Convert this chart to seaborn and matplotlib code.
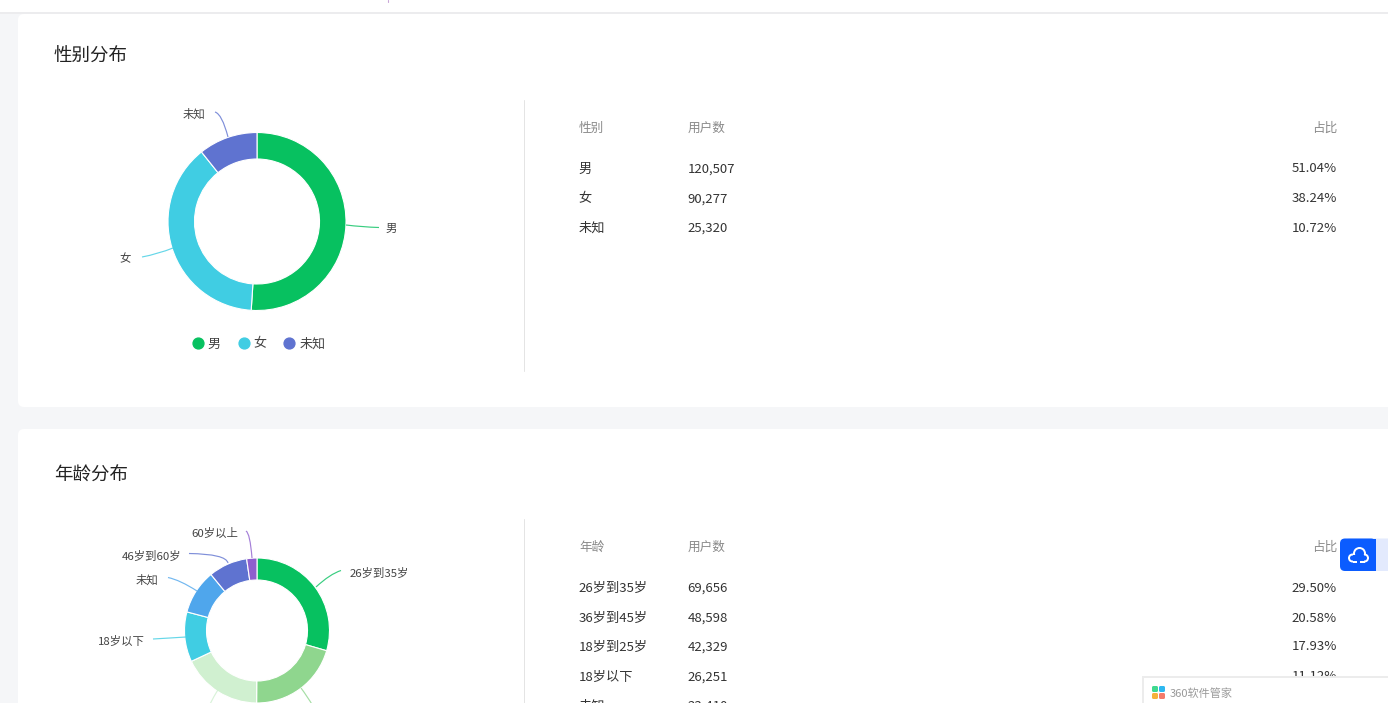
#!/usr/bin/env python3

import numpy as np
import seaborn as sns
import matplotlib.pyplot as plt
from matplotlib.lines import Line2D
from matplotlib.patches import Rectangle, FancyBboxPatch, PathPatch, Circle
from matplotlib.path import Path

W, H = 1388, 703

gender_labels = ["男", "女", "未知"]
gender_users = [120507, 90277, 25320]
gender_share = ["51.04%", "38.24%", "10.72%"]
gender_colors = ["#07c160", "#40cde3", "#5f73d0"]

age_labels = ["26岁到35岁", "36岁到45岁", "18岁到25岁", "18岁以下", "未知", "46岁到60岁", "60岁以上"]
age_users = [69656, 48598, 42329, 26251, 23410, 20460, 5400]
age_share = ["29.50%", "20.58%", "17.93%", "11.12%", "9.92%", "8.67%", "2.29%"]
age_colors = ["#07c160", "#8fd68e", "#d0f0d0", "#40cde3", "#4fa6ec", "#5f73d0", "#8e5fce"]

sns.set_theme(style="white")
plt.rcParams['font.family'] = ['Noto Sans CJK SC', 'DejaVu Sans']

fig = plt.figure(figsize=(W / 100, H / 100), dpi=100, facecolor="#f5f6f8")

# whole figure in screen pixels, for the page furniture
bg = fig.add_axes([0, 0, 1, 1], zorder=0)
bg.set_xlim(0, W)
bg.set_ylim(H, 0)
bg.axis("off")


def card(y0, y1):
    bg.add_patch(FancyBboxPatch((18, y0), W + 40, y1 - y0, boxstyle="round,pad=0,rounding_size=6",
                                fc="white", ec="none"))


bg.add_patch(Rectangle((0, 0), W, 12, fc="white", ec="none"))
bg.add_patch(Rectangle((0, 12), W, 2, fc="#ececee", ec="none"))
bg.plot([388, 388], [0, 1.5], color="#c9a6d8", lw=0.8)
card(14, 407)
card(429, 760)


def donut(values, colors, cx, cy, r, hole):
    pad = 1.05
    ax = fig.add_axes([(cx - r * pad) / W, 1 - (cy + r * pad) / H, 2 * r * pad / W, 2 * r * pad / H], zorder=1)
    ax.pie(values, colors=sns.color_palette(colors), startangle=90, counterclock=False,
           wedgeprops=dict(width=1 - hole / r, edgecolor="white", linewidth=0.8))
    ax.set_xlim(-pad, pad)
    ax.set_ylim(-pad, pad)
    return ax


donut(gender_users, gender_colors, 257, 221.5, 89, 62.5)
donut(age_users, age_colors, 257, 630.5, 72.5, 50.5)

# overlay for text, leader lines and the desktop widgets on top
fg = fig.add_axes([0, 0, 1, 1], zorder=2)
fg.set_xlim(0, W)
fg.set_ylim(H, 0)
fg.axis("off")
fg.patch.set_alpha(0)


def leader(p0, p1, p2, color):
    fg.add_patch(PathPatch(Path([p0, p1, p2], [Path.MOVETO, Path.CURVE3, Path.CURVE3]),
                           fc="none", ec=color, lw=0.85, alpha=0.8))


gender_leaders = [((346, 225), (362, 227), (379, 227.5), 391.5, 228.5),
                  ((173, 248), (158, 254), (142, 257), 125.5, 258.5),
                  ((228, 137), (222, 114), (215, 112), 194, 114.5)]
for (a, b, c, tx, ty), col, lab in zip(gender_leaders, gender_colors, gender_labels):
    leader(a, b, c, col)
    fg.text(tx, ty, lab, fontsize=8.2, color="#444444", ha="center", va="center")

age_leaders = [((316, 587), (330, 574), (341, 570.5), 379.5, 573.5),
               ((301, 688), (307, 696), (313, 706), None, None),
               ((219, 688), (214, 696), (209, 706), None, None),
               ((186, 637), (170, 638), (153, 639), 121.5, 641.5),
               ((197, 591), (180, 580), (168, 577.5), 147, 580.5),
               ((228, 563), (226, 554), (189, 553.5), 151.5, 556.5),
               ((252, 558), (250, 533), (246, 531), 214.5, 533.5)]
for (a, b, c, tx, ty), col, lab in zip(age_leaders, age_colors, age_labels):
    leader(a, b, c, col)
    if tx is not None:
        fg.text(tx, ty, lab, fontsize=8.2, color="#444444", ha="center", va="center")

fg.legend(handles=[Line2D([], [], ls="", marker="o", ms=7.8, color=c, label=l)
                   for c, l in zip(gender_colors, gender_labels)],
          loc="center", bbox_to_anchor=(257 / W, 1 - 344 / H), ncol=3, frameon=False,
          prop={"size": 9.4}, labelcolor="#444444", handletextpad=0.05, columnspacing=1.05, handlelength=1.4)


def table(head, labels, users, share, y_head, y_rows):
    fg.text(579, y_head, head, fontsize=9.1, color="#8a8a8a", va="center")
    fg.text(688, y_head, "用户数", fontsize=9.1, color="#8a8a8a", va="center")
    fg.text(1337, y_head, "占比", fontsize=9.1, color="#8a8a8a", va="center", ha="right")
    for y, lab, u, s in zip(y_rows, labels, users, share):
        fg.text(578.5, y, lab, fontsize=9.5, color="#333333", va="center")
        fg.text(687.5, y, f"{u:,}", fontsize=9.5, color="#333333", va="center")
        fg.text(1337, y, s, fontsize=9.5, color="#333333", va="center", ha="right")


table("性别", gender_labels, gender_users, gender_share, 128, [169, 199, 228])
table("年龄", age_labels[:5], age_users[:5], age_share[:5], 547, [588, 618, 647, 677, 706.5])

fg.text(54, 57, "性别分布", fontsize=13.3, color="#222222", va="center")
fg.text(54, 476, "年龄分布", fontsize=13.3, color="#222222", va="center")

fg.plot([524.5, 524.5], [100, 371], color="#e4e4e4", lw=0.72)
fg.plot([524.5, 524.5], [519, 703], color="#e4e4e4", lw=0.72)

# cloud widget at the right edge
fg.add_patch(FancyBboxPatch((1345, 538.5), 60, 32.5, boxstyle="round,pad=0,rounding_size=5", fc="#e3eafd", ec="none"))
fg.add_patch(FancyBboxPatch((1340, 538.5), 36, 32.5, boxstyle="round,pad=0,rounding_size=5", fc="#0b5cff", ec="none"))
fg.add_patch(Rectangle((1366, 538.5), 10, 32.5, fc="#0b5cff", ec="none"))
cloud = [(1359.5, 553.5, 6.5), (1352.5, 558, 4.5), (1364.5, 558, 4.5)]
for x, y, r in cloud:
    fg.add_patch(Circle((x, y), r, fc="white", ec="none"))
for x, y, r in cloud:
    fg.add_patch(Circle((x, y), r - 2, fc="#0b5cff", ec="none"))
fg.add_patch(Rectangle((1353, 555), 11, 5.5, fc="#0b5cff", ec="none"))
fg.add_patch(Rectangle((1353, 560.5), 4, 2, fc="white", ec="none"))
fg.add_patch(Rectangle((1360, 560.5), 5, 2, fc="white", ec="none"))

# 360 popup bottom right, sits above the table rows
fg.add_patch(Rectangle((1142, 676), 260, 40, fc="#ececec", ec="none", zorder=10))
fg.add_patch(Rectangle((1144, 678), 260, 40, fc="white", ec="none", zorder=11))
for x, y, c in [(1152, 686, "#3fd98f"), (1159, 686, "#2db8f0"), (1152, 693, "#f7b23b"), (1159, 693, "#f47b6b")]:
    fg.add_patch(FancyBboxPatch((x, y), 6, 6, boxstyle="round,pad=0,rounding_size=1.5", fc=c, ec="none", zorder=12))
fg.text(1170, 693.5, "360软件管家", fontsize=8, color="#999999", va="center", zorder=12)

plt.savefig("out.png", dpi=100, facecolor=fig.get_facecolor())
